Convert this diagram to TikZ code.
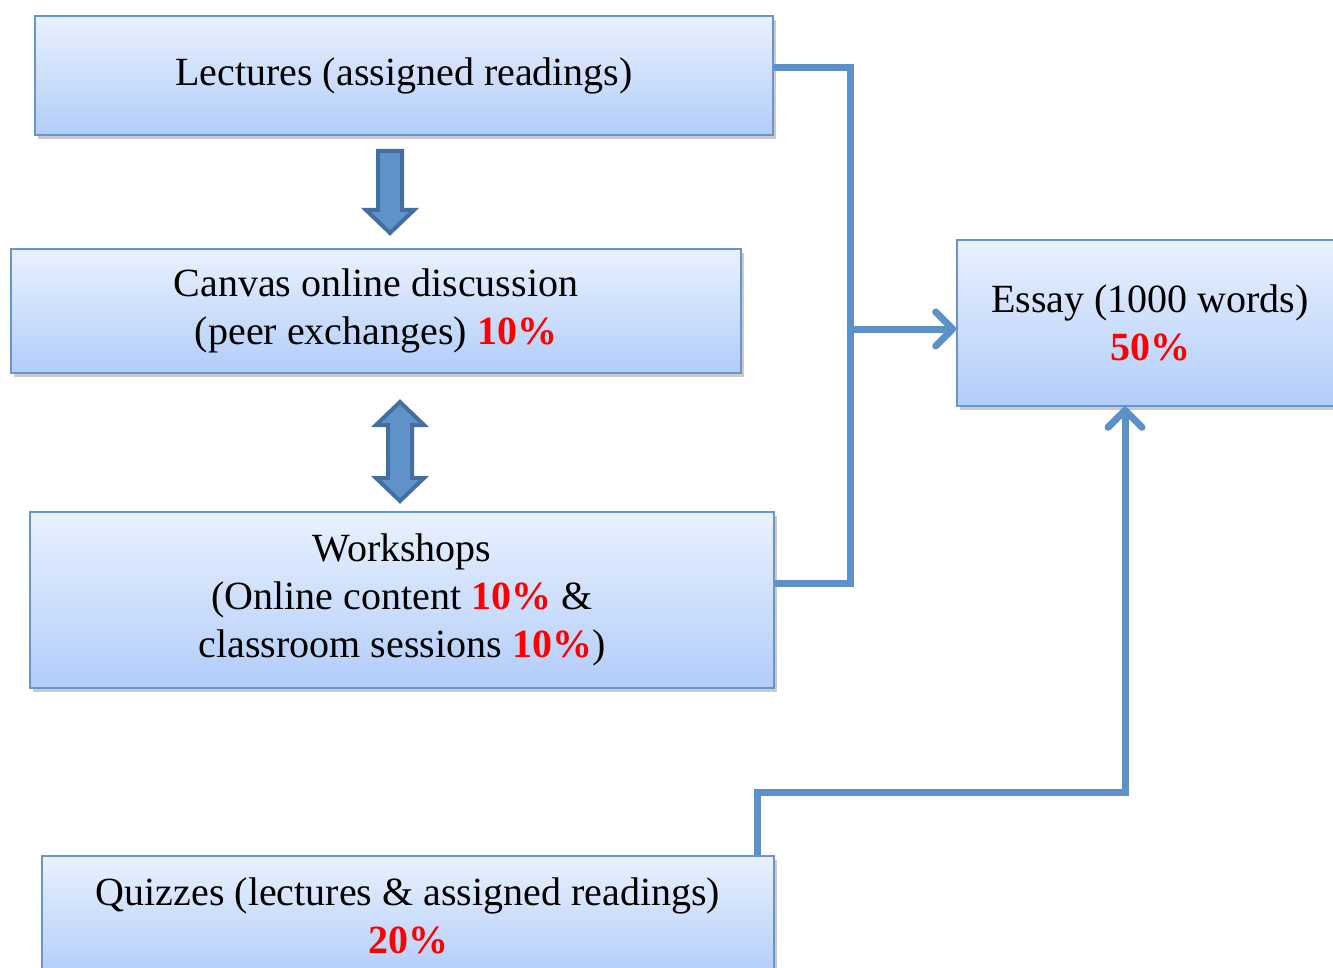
\documentclass[tikz,border=0pt]{standalone}
\usepackage{fontspec}
\setmainfont{Liberation Serif}
\usetikzlibrary{arrows.meta,shadows}
\definecolor{boxtop}{RGB}{233,241,254}
\definecolor{boxbot}{RGB}{178,205,250}
\definecolor{boxline}{RGB}{104,148,210}
\definecolor{linkblue}{RGB}{91,145,200}
\definecolor{blkfill}{RGB}{96,146,202}
\definecolor{blkline}{RGB}{66,111,160}
\tikzset{
  box/.style={draw=boxline, line width=0.8pt, top color=boxtop, bottom color=boxbot,
    align=center, font=\fontsize{20}{24}\selectfont, inner sep=0pt,
    drop shadow={shadow xshift=1.5pt, shadow yshift=-2pt, opacity=.35, fill=black!60}},
  link/.style={draw=linkblue, line width=3.5pt},
  linkarrow/.style={link, -{Straight Barb[length=8.5pt, width=17pt, line cap=round, line join=round]}},
  blockarrow/.style={fill=blkfill, draw=blkline, line width=2pt, line join=miter},
}
\newcommand{\pct}[1]{\textcolor{red}{\textbf{#1}}}
\begin{document}
\begin{tikzpicture}[x=0.5pt,y=-0.5pt]
\useasboundingbox (0,0) rectangle (1333,968);
% boxes
\node[box, minimum width=369pt, minimum height=59.5pt] (lect) at (404,75.5) {Lectures (assigned readings)};
\node[box, minimum width=365pt, minimum height=62pt] (canvas) at (376,311) {Canvas online discussion\\(peer exchanges) \pct{10\%}};
\node[box, minimum width=372pt, minimum height=88pt] (work) at (402,600) {Workshops\\(Online content \pct{10\%} \&\\classroom sessions \pct{10\%})};
\node[box, minimum width=366pt, minimum height=60pt] (quiz) at (408,916) {Quizzes (lectures \& assigned readings)\\\pct{20\%}};
\node[box, minimum width=193pt, minimum height=83pt] (essay) at (1150,323) {Essay (1000 words)\\\pct{50\%}};
% block arrows
\draw[blockarrow] (378,151) -- (402,151) -- (402,210) -- (414,210) -- (390,233)
  -- (366,210) -- (378,210) -- cycle;
\draw[blockarrow] (400,402) -- (424,425) -- (412,425) -- (412,478) -- (424,478)
  -- (400,501) -- (376,478) -- (388,478) -- (388,425) -- (376,425) -- cycle;
% connectors
\coordinate (jn) at (850,329);
\coordinate (qk) at (1125,792);
\draw[link] ([yshift=3.75pt]lect.east) -| (jn) |- ([yshift=8.5pt]work.east);
\draw[linkarrow] (jn) -- (essay.west |- jn);
\draw[linkarrow] ([xshift=-8.5pt]quiz.north east) |- (qk) -- (essay.south -| qk);
\end{tikzpicture}
\end{document}
